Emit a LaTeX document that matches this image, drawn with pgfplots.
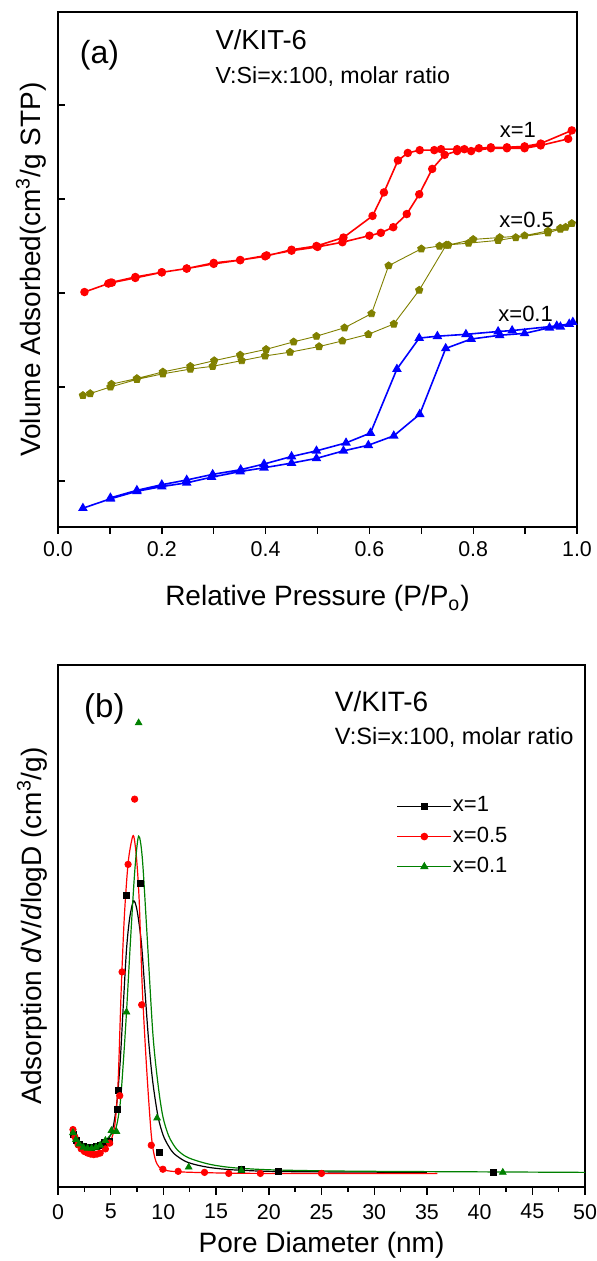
\documentclass[border=0pt]{standalone}
\usepackage{fontspec}
\setmainfont{Liberation Sans}
\usepackage{pgfplots}
\pgfplotsset{compat=1.18}
\usetikzlibrary{plotmarks}
\definecolor{cOlive}{RGB}{128,128,0}
\definecolor{cGreen}{RGB}{0,128,0}
\definecolor{cBlue}{RGB}{0,0,255}
\definecolor{cRed}{RGB}{255,0,0}
\begin{document}
\begin{tikzpicture}
\useasboundingbox (0,0) rectangle (298.5pt,630.5pt);
% ---------------- panel (a)
\begin{axis}[
  at={(29pt,367pt)}, anchor=south west, scale only axis,
  width=259.5pt, height=257.5pt,
  xmin=0, xmax=1, ymin=-49, ymax=499,
  axis line style={line width=0.8pt},
  every tick/.style={black, line width=0.7pt},
  xtick={0,0.2,0.4,0.6,0.8,1.0}, xticklabels={0.0,0.2,0.4,0.6,0.8,1.0},
  minor xtick={0.1,0.3,0.5,0.7,0.9},
  ytick={0,100,200,300,400}, yticklabels={},
  xtick pos=bottom, ytick pos=left,
  xtick align=outside, ytick align=inside,
  major tick length=3.5pt, minor tick length=3.5pt,
  /pgf/number format/assume math mode=true,
  tick label style={font=\fontsize{10.7}{12}\selectfont},
  xticklabel style={yshift=-0.5pt},
  xlabel={Relative Pressure (P/P\textsubscript{o})},
  xlabel style={at={(axis description cs:0.5,-0.153)}, anchor=base, font=\fontsize{14}{16}\selectfont},
  ylabel={Volume Adsorbed(cm\textsuperscript{3}/g STP)},
  ylabel style={at={(axis description cs:-0.0345,0.5)}, anchor=base, font=\fontsize{14}{16}\selectfont},
]
\addplot[cRed, line width=0.8pt, mark=*, mark size=1.7pt] table {
0.051 201
0.097 210
0.104 211
0.149 216
0.200 222
0.248 226
0.300 231
0.351 235
0.402 240
0.450 245
0.500 249
0.548 254
0.600 261
0.622 264
0.646 270
0.672 284
0.696 305
0.721 332
0.745 347
0.769 351
0.796 351
0.834 354
0.865 354
0.899 354
0.930 357
0.983 364
0.990 373
0.930 359
0.899 356
0.865 355
0.834 355
0.811 354
0.783 353
0.769 353
0.738 353
0.725 352
0.697 352
0.674 349
0.655 341
0.628 307
0.606 282
0.550 259
0.498 250
0.450 246
0.399 239
0.351 235
0.300 232
0.248 226
0.200 222
0.149 217
0.101 211
};
\addplot[cOlive, line width=0.45pt, mark=pentagon*, mark size=1.9pt] table {
0.048 91
0.062 93
0.101 100
0.152 108
0.202 114
0.255 119
0.298 122
0.354 128
0.399 133
0.447 137
0.503 143
0.548 149
0.598 156
0.647 167
0.696 203
0.748 251
0.791 253
0.848 256
0.882 259
0.944 264
0.968 268
0.978 270
0.990 274
0.968 269
0.944 266
0.899 261
0.851 259
0.800 257
0.752 251
0.735 250
0.700 247
0.637 229
0.604 178
0.552 163
0.498 154
0.454 148
0.401 140
0.351 134
0.301 128
0.255 122
0.202 116
0.152 109
0.103 103
};
\addplot[cBlue, line width=0.8pt, mark=triangle*, mark size=2pt] table {
0.048 -29
0.101 -19
0.152 -11
0.200 -6
0.248 -2
0.296 4
0.351 10
0.397 14
0.450 19
0.498 24
0.550 32
0.598 38
0.647 48
0.697 71
0.747 141
0.796 151
0.851 155
0.899 157
0.947 163
0.968 164
0.992 169
0.985 167
0.961 165
0.875 160
0.848 159
0.786 156
0.731 154
0.696 152
0.653 119
0.602 51
0.555 40.5
0.498 32
0.450 26
0.397 18
0.352 12
0.298 7
0.248 1
0.200 -4
0.152 -10
0.101 -18
};
\node[font=\fontsize{16}{18}\selectfont] at (axis cs:0.080,453) {(a)};
\node[anchor=west, font=\fontsize{13.7}{16}\selectfont] at (axis cs:0.290,470) {V/KIT-6};
\node[anchor=west, font=\fontsize{11.6}{14}\selectfont] at (axis cs:0.290,430) {V:Si=x:100, molar ratio};
\node[font=\fontsize{11}{13}\selectfont] at (axis cs:0.886,373) {x=1};
\node[font=\fontsize{11}{13}\selectfont] at (axis cs:0.903,278) {x=0.5};
\node[font=\fontsize{11}{13}\selectfont] at (axis cs:0.901,178) {x=0.1};
\end{axis}
% ---------------- panel (b)
\begin{axis}[
  at={(29pt,37pt)}, anchor=south west, scale only axis,
  width=263.5pt, height=261pt,
  xmin=0, xmax=50, ymin=0, ymax=100,
  axis line style={line width=0.8pt},
  every tick/.style={black, line width=0.7pt},
  xtick={0,5,...,50}, minor x tick num=1,
  ytick=\empty,
  xtick pos=bottom,
  tick align=outside,
  major tick length=4pt, minor tick length=2.5pt,
  /pgf/number format/assume math mode=true,
  tick label style={font=\fontsize{10.7}{12}\selectfont},
  xticklabel style={yshift=-1pt},
  xlabel={Pore Diameter (nm)},
  xlabel style={at={(axis description cs:0.5,-0.126)}, anchor=base, font=\fontsize{14}{16}\selectfont},
  ylabel={Adsorption \textit{d}V/\textit{d}logD (cm\textsuperscript{3}/g)},
  ylabel style={at={(axis description cs:-0.032,0.5)}, anchor=base, font=\fontsize{14}{16}\selectfont},
  legend cell align=left,
  legend image code/.code={\draw[mark repeat=2,mark phase=2,#1] plot coordinates {(0pt,0pt) (13.5pt,0pt) (27pt,0pt)};},
  legend style={at={(0.642,0.752)}, anchor=north west, draw=none, fill=none, inner sep=0pt,
    font=\fontsize{11}{13}\selectfont, row sep=3.6pt,
    nodes={inner sep=0.5pt, text height=8pt, text depth=2.5pt},
    /tikz/every even column/.append style={column sep=2.5pt}},
]
% black x=1 line
\addplot[black, line width=0.6pt, smooth, tension=0.5, forget plot] table {
1.4 10.2
1.7 9.0
2.0 8.3
2.5 7.8
3.0 7.6
3.5 7.6
4.0 7.9
4.5 8.5
5.0 10.0
5.3 12.2
5.6 16.5
5.9 24
6.2 35
6.5 45.5
6.8 51.5
7.17 54.8
7.5 53
7.9 47
8.2 39
8.6 28
9.0 20
9.5 13.4
10.0 9.8
10.5 7.8
11.0 6.4
12.0 5.0
13.0 4.3
14.5 3.7
16.5 3.3
20 3.0
25 2.9
35 2.8
};
\addplot[only marks, black, mark=square*, mark size=1.5pt, forget plot] table {
1.42 10.1
1.7 9.0
2.0 8.2
2.4 7.7
2.8 7.5
3.2 7.6
3.6 7.7
4.0 8.0
4.4 8.6
4.9 8.8
5.6 14.9
5.75 18.6
6.5 55.9
7.8 58.2
9.65 6.6
17.4 3.4
20.9 3.0
41.3 2.8
};
% red x=0.5
\addplot[cRed, line width=0.6pt, smooth, tension=0.5, forget plot] table {
1.4 11.0
1.7 9.2
2.0 7.8
2.5 6.8
3.0 6.4
3.5 6.3
4.0 6.6
4.5 7.3
5.0 8.8
5.4 12
5.7 20
6.0 38
6.3 52
6.65 62
7.0 66.5
7.2 67.1
7.45 63
7.7 55
8.0 38
8.4 23
8.85 10
9.2 5.5
9.6 3.8
10.2 3.2
11.5 2.9
15 2.7
20 2.6
36 2.6
};
\addplot[only marks, cRed, mark=*, mark size=1.6pt, forget plot] table {
1.42 11.0
1.6 9.6
1.9 8.1
2.2 7.3
2.5 6.8
2.8 6.5
3.1 6.3
3.4 6.2
3.7 6.3
4.0 6.5
4.5 7.3
4.9 8.4
5.86 17.5
6.08 41.2
6.65 61.8
7.27 74.3
7.94 34.9
8.85 8.0
9.95 3.4
11.4 3.0
13.9 2.8
16.2 2.6
19.2 2.6
25.0 2.6
};
% green x=0.1
\addplot[cGreen, line width=0.6pt, smooth, tension=0.5, forget plot] table {
1.4 10.4
1.7 9.1
2.0 8.3
2.5 7.7
3.0 7.5
3.5 7.6
4.0 8.1
4.5 8.9
5.0 10.0
5.5 11.3
5.9 16
6.2 24
6.5 33.5
6.9 48
7.3 61
7.65 67.2
8.0 63
8.44 48.6
9.0 29.4
9.5 19.5
9.95 13.5
10.5 9.8
11.2 7.4
12.0 6.0
12.9 5.2
14.5 4.3
16.6 3.7
20 3.3
25 3.1
30 3.0
40 2.9
50 2.8
};
\addplot[only marks, cGreen, mark=triangle*, mark size=1.9pt, forget plot] table {
1.42 10.4
1.7 9.1
2.0 8.2
2.4 7.6
2.8 7.4
3.2 7.4
3.6 7.6
4.0 8.0
4.5 8.9
5.07 10.8
5.55 10.6
6.5 33.5
7.65 88.9
9.4 13.2
12.4 3.8
17.4 3.2
42.2 2.8
};
\addlegendimage{black, line width=0.6pt, mark=square*, mark size=1.5pt}
\addlegendentry{x=1}
\addlegendimage{cRed, line width=0.6pt, mark=*, mark size=1.6pt}
\addlegendentry{x=0.5}
\addlegendimage{cGreen, line width=0.6pt, mark=triangle*, mark size=1.9pt}
\addlegendentry{x=0.1}
\node[font=\fontsize{16.5}{19}\selectfont] at (axis cs:4.4,91.5) {(b)};
\node[anchor=west, font=\fontsize{14}{16}\selectfont] at (axis cs:25.6,93.1) {V/KIT-6};
\node[anchor=west, font=\fontsize{11.8}{14}\selectfont] at (axis cs:25.6,86.1) {V:Si=x:100, molar ratio};
\end{axis}
\end{tikzpicture}
\end{document}
